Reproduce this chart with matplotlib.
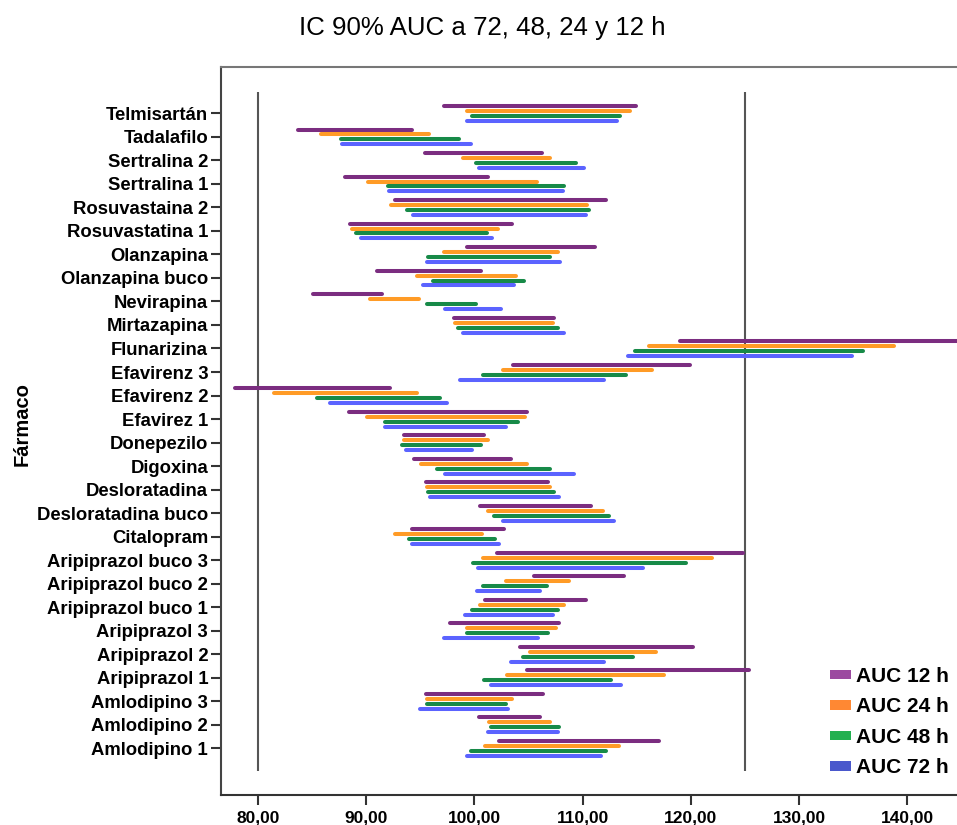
import matplotlib
matplotlib.use('Agg')
import matplotlib.pyplot as plt
import numpy as np
from matplotlib.patches import Patch
from matplotlib.ticker import FuncFormatter

plt.rcParams['font.family'] = ['Liberation Sans', 'DejaVu Sans']

# fármacos, de arriba a abajo
farmacos = ['Telmisartán', 'Tadalafilo', 'Sertralina 2', 'Sertralina 1', 'Rosuvastaina 2',
            'Rosuvastatina 1', 'Olanzapina', 'Olanzapina buco', 'Nevirapina', 'Mirtazapina',
            'Flunarizina', 'Efavirenz 3', 'Efavirenz 2', 'Efavirez 1', 'Donepezilo', 'Digoxina',
            'Desloratadina', 'Desloratadina buco', 'Citalopram', 'Aripiprazol buco 3',
            'Aripiprazol buco 2', 'Aripiprazol buco 1', 'Aripiprazol 3', 'Aripiprazol 2',
            'Aripiprazol 1', 'Amlodipino 3', 'Amlodipino 2', 'Amlodipino 1']

# límites IC 90%
auc12_lo = [97.2, 83.7, 95.4, 88.0, 92.7, 88.5, 99.3, 91.0, 85.1, 98.1, 119.0, 103.6, 77.9, 88.4,
            93.5, 94.4, 95.5, 100.5, 94.2, 102.1, 105.5, 101.0, 97.7, 104.2, 104.9, 95.5, 100.45, 102.3]
auc12_hi = [114.9, 94.2, 106.2, 101.3, 112.2, 103.5, 111.1, 100.6, 91.5, 107.4, 146.0, 119.9, 92.2, 104.9,
            100.9, 103.4, 106.8, 110.8, 102.7, 124.8, 113.8, 110.3, 107.85, 120.2, 125.4, 106.3, 106.1, 117.1]
auc24_lo = [99.3, 85.8, 98.9, 90.2, 92.3, 88.7, 97.2, 94.7, 90.35, 98.2, 116.1, 102.6, 81.45, 90.1,
            93.5, 95.1, 95.6, 101.3, 92.7, 100.8, 102.9, 100.5, 99.3, 105.1, 103.0, 95.6, 101.35, 101.0]
auc24_hi = [114.4, 95.8, 107.0, 105.8, 110.4, 102.2, 107.7, 103.8, 94.9, 107.3, 138.8, 116.4, 94.7, 104.7,
            101.3, 104.9, 107.0, 111.9, 100.7, 122.0, 108.7, 108.3, 107.5, 116.8, 117.55, 103.5, 107.0, 113.4]
auc48_lo = [99.75, 87.7, 100.1, 92.0, 93.8, 89.1, 95.7, 96.2, 95.6, 98.5, 114.8, 100.8, 85.45, 91.7,
            93.3, 96.5, 95.7, 101.8, 94.0, 99.9, 100.8, 99.8, 99.3, 104.5, 100.9, 95.6, 101.5, 99.65]
auc48_hi = [113.5, 98.6, 109.4, 108.3, 110.6, 101.2, 107.0, 104.6, 100.1, 107.7, 135.9, 114.0, 96.85, 104.0,
            100.6, 107.0, 107.4, 112.4, 101.9, 119.6, 106.7, 107.7, 106.8, 114.7, 112.65, 102.9, 107.85, 112.2]
auc72_lo = [99.3, 87.8, 100.4, 92.1, 94.3, 89.5, 95.6, 95.25, 97.3, 98.9, 114.2, 98.7, 86.65, 91.7,
            93.65, 97.25, 95.9, 102.6, 94.2, 100.3, 100.2, 99.1, 97.2, 103.35, 101.5, 95.0, 101.3, 99.3]
auc72_hi = [113.2, 99.7, 110.1, 108.2, 110.3, 101.6, 107.9, 103.7, 102.5, 108.3, 134.9, 112.0, 97.5, 102.9,
            99.8, 109.2, 107.8, 112.9, 102.3, 115.6, 106.1, 107.3, 105.9, 112.0, 113.55, 103.1, 107.7, 111.7]

series = [('AUC 12 h', auc12_lo, auc12_hi, '#7b2d80', '#9c4aa0', 0.31),
          ('AUC 24 h', auc24_lo, auc24_hi, '#ff9b26', '#ff8833', 0.10),
          ('AUC 48 h', auc48_lo, auc48_hi, '#178a48', '#22b050', -0.11),
          ('AUC 72 h', auc72_lo, auc72_hi, '#5b63ff', '#4a58cc', -0.32)]

fig = plt.figure(figsize=(9.57, 8.25), dpi=100)
ax = fig.add_axes([0.2306, 0.0364, 0.7694, 0.8824])

n = len(farmacos)
ypos = np.arange(n)[::-1]

# límites de bioequivalencia
ax.vlines([80, 125], -0.97, 27.9, color='#555555', lw=1.5, zorder=1)

handles = []
for label, lo, hi, col, legcol, off in series:
    ax.hlines(ypos + off, lo, hi, color=col, lw=2.9, capstyle='round', zorder=3)
    handles.append(Patch(facecolor=legcol, edgecolor='none', label=label))

ax.set_xlim(76.55, 144.6)
ax.set_ylim(-1.985, 28.97)
ax.set_yticks(ypos)
ax.set_yticklabels(farmacos, fontsize=13.3, fontweight='bold')
ax.set_xticks(np.arange(80, 141, 10))
ax.xaxis.set_major_formatter(FuncFormatter(lambda v, p: f'{v:.2f}'.replace('.', ',')))
for t in ax.get_xticklabels():
    t.set_fontsize(12.5)
    t.set_fontweight('bold')

ax.tick_params(axis='y', length=7, width=1.5, color='#333333', pad=2)
ax.tick_params(axis='x', length=7, width=1.5, color='#333333', pad=4)
ax.spines['right'].set_visible(False)
ax.spines['left'].set_color('#444444')
ax.spines['left'].set_linewidth(1.5)
ax.spines['bottom'].set_color('#333333')
ax.spines['bottom'].set_linewidth(1.5)
ax.spines['top'].set_color('#777777')
ax.spines['top'].set_linewidth(1.5)

fig.text(0.504, 1 - 28 / 825, 'IC 90% AUC a 72, 48, 24 y 12 h', fontsize=18.6,
         ha='center', va='center')
fig.text(22 / 957, 1 - 424 / 825, 'Fármaco', fontsize=14.5, fontweight='bold',
         rotation=90, ha='center', va='center')

fig.legend(handles=handles, loc='upper left', bbox_to_anchor=(830 / 957, 1 - 667 / 825),
           frameon=False, borderpad=0, borderaxespad=0, handlelength=1.0, handleheight=0.35,
           handletextpad=0.25, labelspacing=0.55, prop={'size': 15, 'weight': 'bold'})

fig.savefig('out.png', dpi=100)
